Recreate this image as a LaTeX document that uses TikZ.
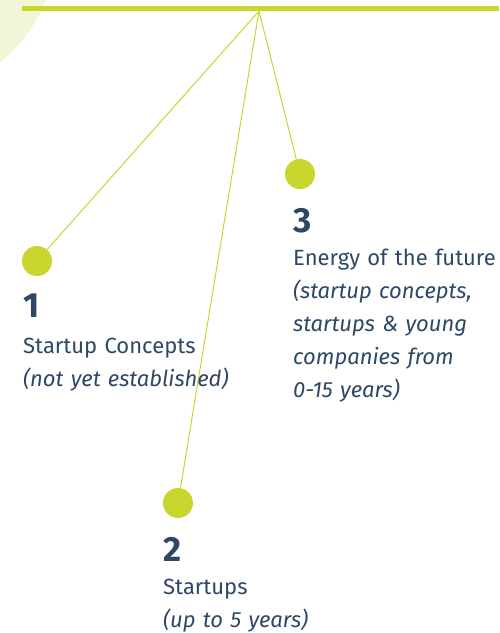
\documentclass[tikz,border=0pt]{standalone}
\usepackage{fontspec}
\setmainfont{Fira Sans}
\usetikzlibrary{positioning}
\definecolor{lime}{HTML}{C8D62E}
\definecolor{paleLime}{HTML}{F2F6D6}
\definecolor{slate}{HTML}{2D4764}
\tikzset{
  dot/.style={circle, fill=lime, inner sep=0pt, minimum size=30pt},
  stem/.style={draw=lime, line width=1pt},
  num/.style={anchor=base west, inner sep=0pt, text=slate, font=\fontsize{35}{35}\selectfont\bfseries},
  desc/.style={anchor=base west, inner sep=0pt, text=slate, align=left, text width=230pt,
    font=\fontsize{22}{33}\selectfont}
}
\begin{document}
\begin{tikzpicture}[x=1pt, y=-1pt]
  \useasboundingbox (0,0) rectangle (499,633);
  \fill[paleLime] (-100,-60) circle (158);

  \draw[lime, line width=5pt] (22,8) -- (499,8);
  \coordinate (hub) at (259,11);

  \node[dot] (d1) at (37,261) {};
  \node[dot] (d2) at (178,503) {};
  \node[dot] (d3) at (300,174) {};

  \draw[stem] (hub) -- (d1);
  \draw[stem] (hub) -- (d2);
  \draw[stem] (hub) -- (d3);

  % labels
  \node[num] (n1) at (23,317) {1};
  \node[desc] (t1) at (23,353) {Startup Concepts\\\itshape(not yet established)};

  \node[num] (n2) at (163,561) {2};
  \node[desc] (t2) at (163,594) {Startups\\\itshape(up to 5 years)};

  \node[num] (n3) at (293,232) {3};
  \node[desc] (t3) at (293,265) {Energy of the future\\\itshape(startup concepts,\\
    \itshape startups \& young\\\itshape companies from\\\itshape 0-15 years)};
\end{tikzpicture}
\end{document}
